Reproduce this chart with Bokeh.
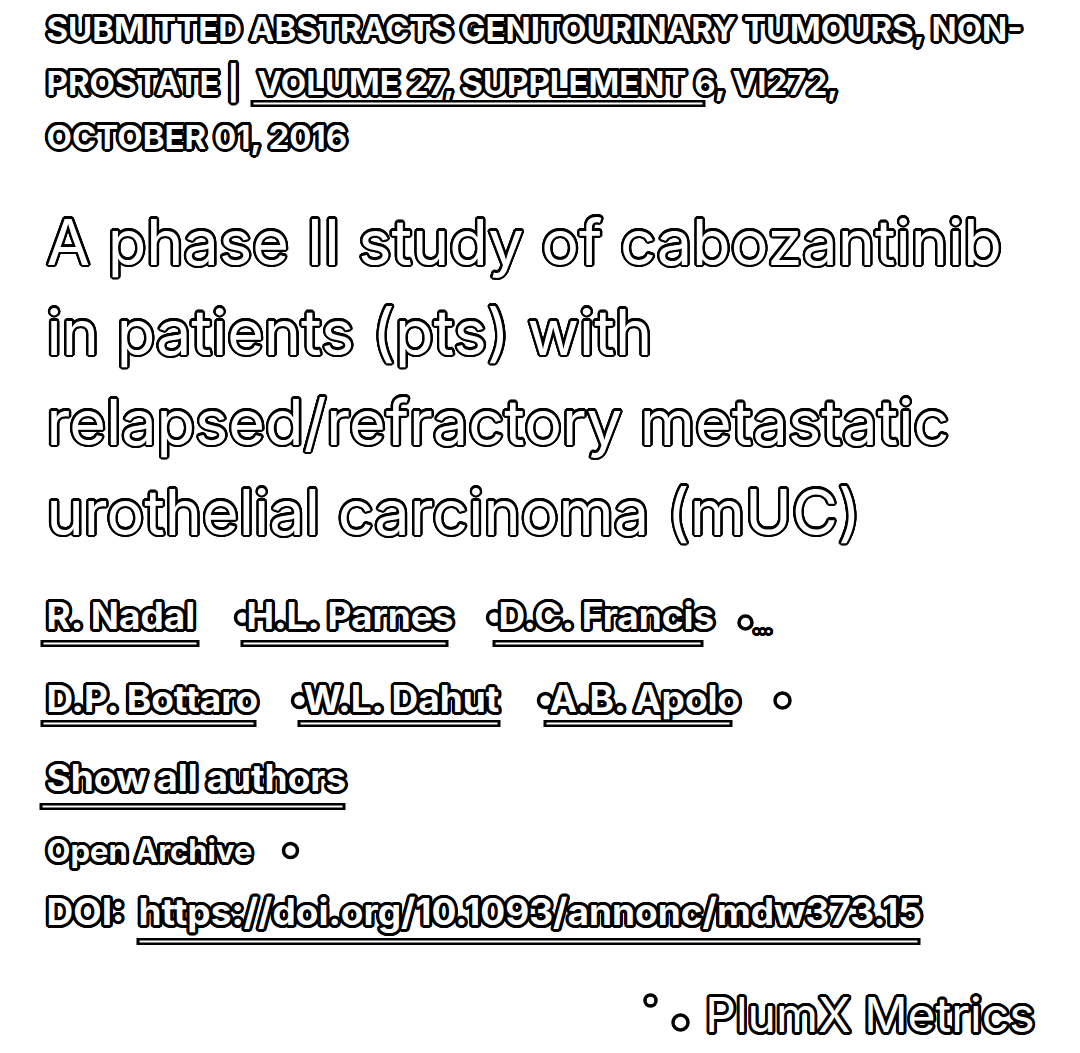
import math

from bokeh.core.properties import value
from bokeh.embed import file_html
from bokeh.models import Range1d
from bokeh.plotting import figure
from bokeh.resources import INLINE

W, H = 1064, 1037
FONT = "Inter"

header_lines = ["SUBMITTED ABSTRACTS GENITOURINARY TUMOURS, NON-",
                "PROSTATE |",
                "OCTOBER 01, 2016"]
volume_link = "VOLUME 27, SUPPLEMENT 6, VI272,"
title_lines = ["A phase II study of cabozantinib",
               "in patients (pts) with",
               "relapsed/refractory metastatic",
               "urothelial carcinoma (mUC)"]
authors_row1 = ["R. Nadal", "H.L. Parnes", "D.C. Francis"]
authors_row2 = ["D.P. Bottaro", "W.L. Dahut", "A.B. Apolo"]
show_all = "Show all authors"
open_archive = "Open Archive"
doi_label = "DOI:"
doi_link = "https://doi.org/10.1093/annonc/mdw373.15"
plumx = "PlumX Metrics"

p = figure(width=W, height=H, output_backend="svg", toolbar_location=None,
           tools="", min_border=0, outline_line_color=None,
           x_range=Range1d(0, W), y_range=Range1d(H, 0))
p.axis.visible = False
p.grid.visible = False


def txt(x, y, s, size, style="bold", align="left", halo=3.0):
    # outlined look: black halo drawn around, white glyph on top
    common = dict(text_font=value(FONT), text_font_size=f"{size}px",
                  text_font_style=style, text_align=align,
                  text_baseline="middle")
    n = 20
    for k in range(n):
        a = 2 * math.pi * k / n
        p.text(x=[x], y=[y], text=[s], text_color="black",
               x_offset=halo * math.cos(a), y_offset=halo * math.sin(a), **common)
    p.text(x=[x], y=[y], text=[s], text_color="white", **common)


def underline(x0, x1, y):
    p.segment(x0=[x0], y0=[y], x1=[x1], y1=[y], line_color="black", line_width=7)
    p.segment(x0=[x0 + 3], y0=[y], x1=[x1 - 3], y1=[y], line_color="white", line_width=2)


def ring(x, y, size):
    p.scatter(x=[x], y=[y], size=size, marker="circle", fill_color="white",
              line_color="black", line_width=3.5)


left = 46
for i, s in enumerate(header_lines):
    txt(left, 28 + i * 54, s, 33)
txt(257, 82, volume_link, 33)
underline(250, 705, 103)

for i, s in enumerate(title_lines):
    txt(left, 241 + i * 90, s, 63, style="normal", halo=2.4)

row1_x = [46, 246, 498]
row1_end = [199, 448, 703]
row2_x = [46, 303, 549]
row2_end = [256, 500, 732]
for k, (xs, xe, s) in enumerate(zip(row1_x, row1_end, authors_row1)):
    if k > 0:
        ring(xs - 4, 617, 14)
    txt(xs, 615, s, 37)
    underline(xs - 6, xe, 643)
for k, (xs, xe, s) in enumerate(zip(row2_x, row2_end, authors_row2)):
    if k > 0:
        ring(xs - 4, 700, 14)
    txt(xs, 698, s, 37)
    underline(xs - 6, xe, 723)
ring(745, 622, 13)
txt(753, 626, "...", 18)
ring(782, 700, 15)

txt(left, 777, show_all, 37)
underline(39, 345, 806)

txt(left, 850, open_archive, 31)
ring(290, 850, 14)

txt(left, 911, doi_label, 37)
txt(138, 911, doi_link, 37)
underline(136, 920, 941)

p.scatter(x=[650, 680], y=[1000, 1022], size=[11, 15], marker="circle",
          fill_color="white", line_color="black", line_width=3.5)
txt(1034, 1014, plumx, 48, style="normal", align="right", halo=2.8)

open("out.html", "w").write(file_html(p, INLINE))
